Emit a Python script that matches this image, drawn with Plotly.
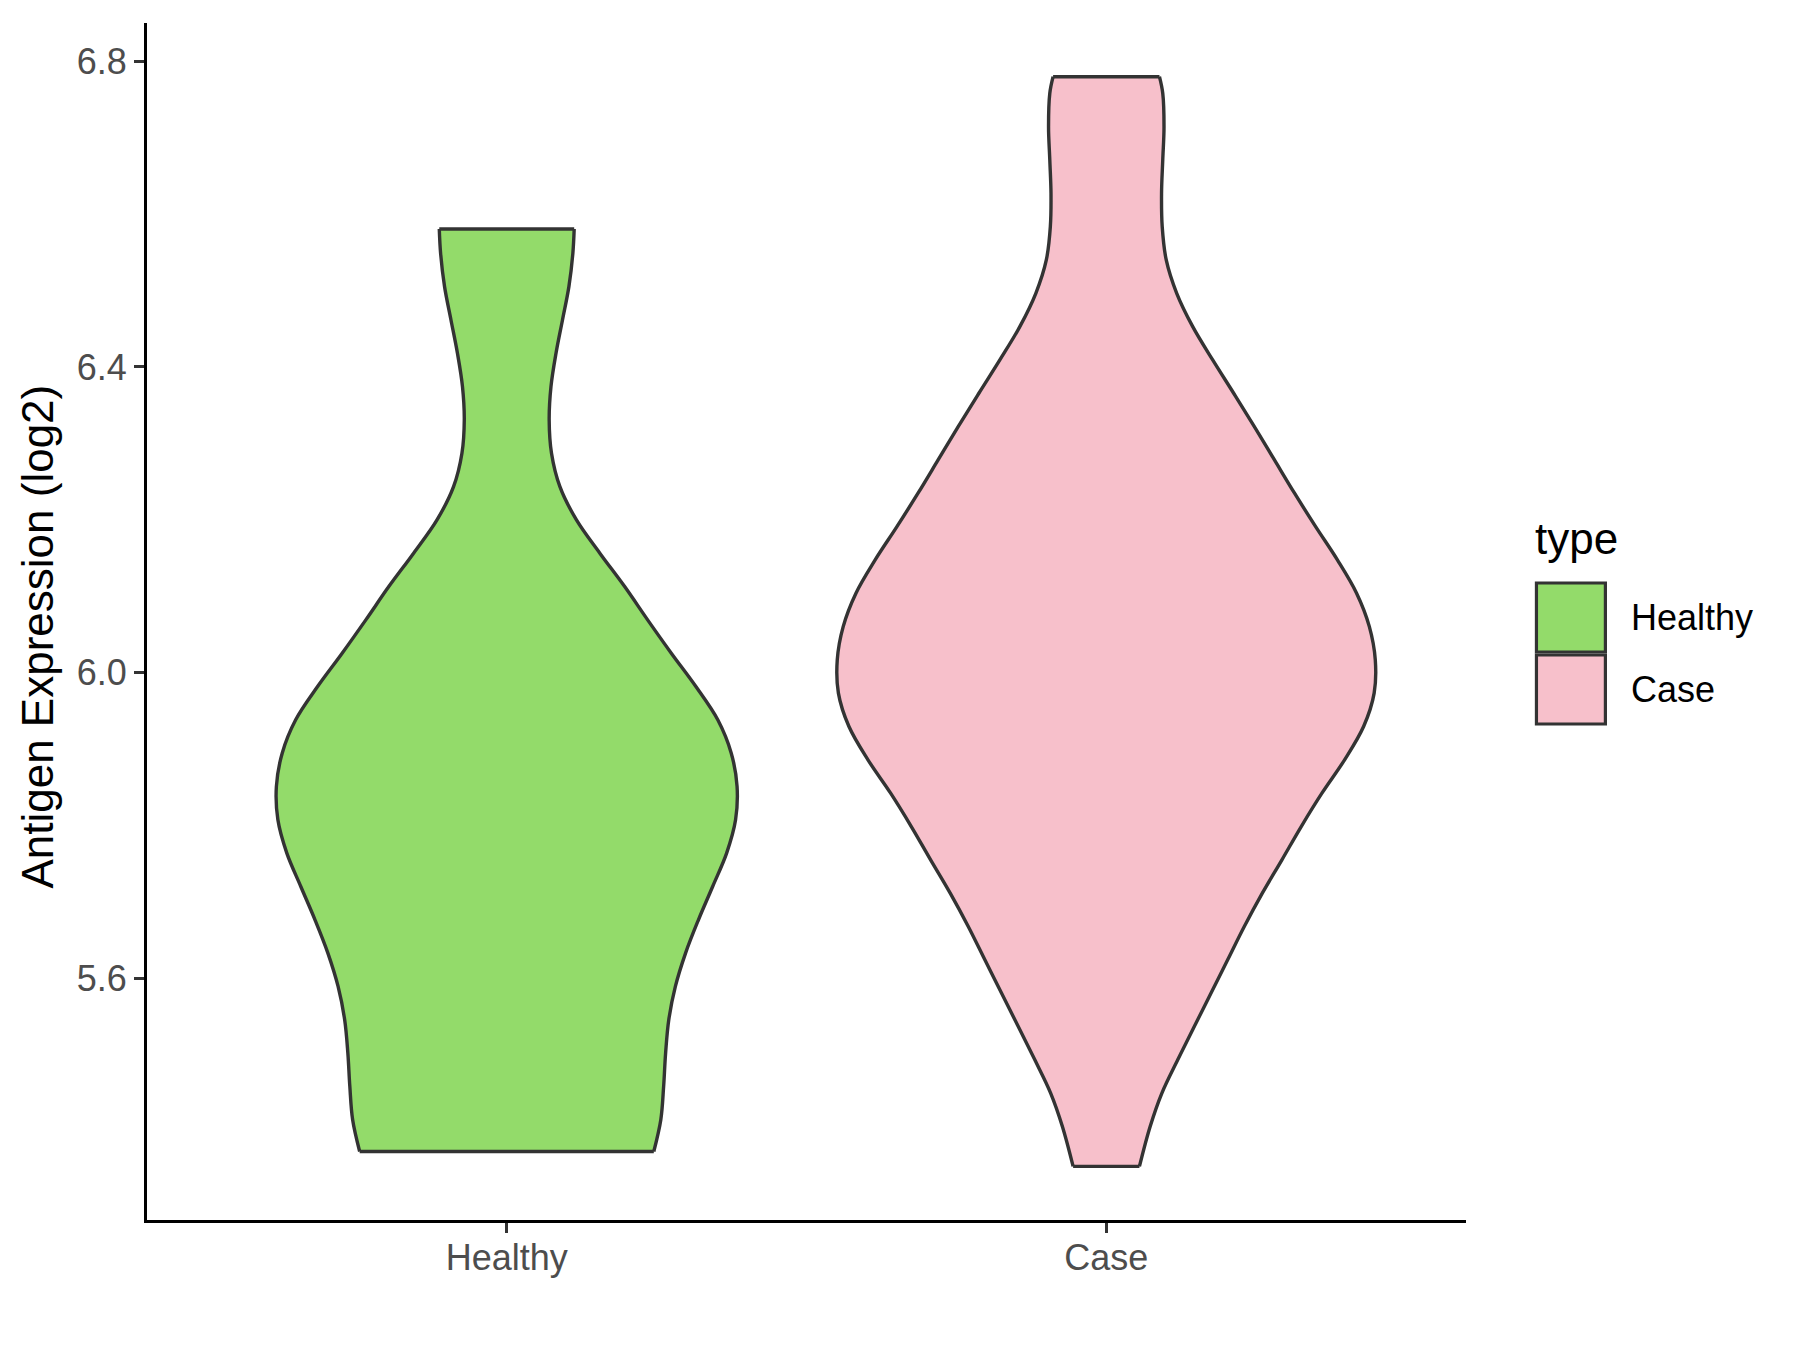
import plotly.graph_objects as go

# ---- data ----
categories = ["Healthy", "Case"]
fill_colors = ["#93DB6A", "#F7C0CB"]

# expression level (log2) and violin half-width (in category units), top to bottom
healthy_y = [6.5804, 6.5486, 6.505, 6.4614, 6.4179, 6.3742, 6.3307, 6.2872, 6.2435, 6.20,
             6.1565, 6.1128, 6.0693, 6.0257, 5.9821, 5.9386, 5.8950, 5.8514, 5.8078, 5.7643,
             5.7207, 5.6771, 5.6336, 5.5900, 5.5464, 5.5029, 5.4592, 5.4157, 5.3742]
healthy_hw = [0.1125, 0.1103, 0.1037, 0.0930, 0.0822, 0.0738, 0.0708, 0.0747, 0.0887, 0.1163,
              0.1553, 0.1967, 0.2350, 0.2745, 0.3155, 0.3520, 0.3745, 0.3842, 0.3817, 0.3668,
              0.3435, 0.3198, 0.2983, 0.2813, 0.2703, 0.2650, 0.2617, 0.2570, 0.2453]

case_y = [6.7795, 6.7578, 6.7141, 6.6706, 6.627, 6.5834, 6.5399, 6.4963, 6.4527, 6.4092,
          6.3656, 6.3220, 6.2784, 6.2349, 6.1912, 6.1477, 6.1042, 6.0605, 6.0170, 5.9735,
          5.9298, 5.8863, 5.8427, 5.7991, 5.7556, 5.7120, 5.6684, 5.6248, 5.5813, 5.5376,
          5.4941, 5.4506, 5.4069, 5.3547]
case_hw = [0.0887, 0.0942, 0.0963, 0.0942, 0.0922, 0.0933, 0.1000, 0.1175, 0.1442, 0.1775,
           0.2125, 0.2470, 0.2805, 0.3140, 0.3492, 0.3855, 0.4175, 0.4388, 0.4487, 0.4468,
           0.4292, 0.3975, 0.3597, 0.3252, 0.2930, 0.2603, 0.2302, 0.2025, 0.1748, 0.1468,
           0.1192, 0.0928, 0.0732, 0.0553]

y_ticks = [5.6, 6.0, 6.4, 6.8]
y_tick_labels = ["5.6", "6.0", "6.4", "6.8"]

profiles = [(healthy_y, healthy_hw), (case_y, case_hw)]

OUTLINE = "#333333"
LW = 3.4
FONT = "Liberation Sans, Arial, sans-serif"

fig = go.Figure()

for i, (name, (ys, hws)) in enumerate(zip(categories, profiles)):
    c = i + 1
    left = [c - h for h in hws]
    right = [c + h for h in hws]
    fig.add_trace(go.Scatter(x=left, y=ys, mode="lines",
                             line=dict(color=OUTLINE, width=LW, shape="spline", smoothing=1.0),
                             showlegend=False, hoverinfo="skip"))
    fig.add_trace(go.Scatter(x=right, y=ys, mode="lines",
                             line=dict(color=OUTLINE, width=LW, shape="spline", smoothing=1.0),
                             fill="tonextx", fillcolor=fill_colors[i], showlegend=False, name=name))
    # flat caps at the ends
    fig.add_trace(go.Scatter(x=[left[0], right[0]], y=[ys[0], ys[0]], mode="lines",
                             line=dict(color=OUTLINE, width=LW), showlegend=False, hoverinfo="skip"))
    fig.add_trace(go.Scatter(x=[left[-1], right[-1]], y=[ys[-1], ys[-1]], mode="lines",
                             line=dict(color=OUTLINE, width=LW), showlegend=False, hoverinfo="skip"))

# page offset (default body margin) compensation
OFF = 8
L, T = 146.5, 23          # plot area in screenshot px
PW, PH = 1320, 1197
W, H = 1800, 1350
ml, mt = L - OFF, T - OFF
mr, mb = W - ml - PW, H - mt - PH


def px(X):
    return (X - L) / PW


def py(Y):
    return (T + PH - Y) / PH


shapes = []
annotations = []
# manual legend
key_boxes = [(583, 652), (655, 724)]
for i, name in enumerate(categories):
    y0, y1 = key_boxes[i]
    shapes.append(dict(type="rect", xref="paper", yref="paper", x0=px(1537), x1=px(1606),
                       y0=py(y1), y1=py(y0), fillcolor=fill_colors[i],
                       line=dict(color=OUTLINE, width=3.2)))
    annotations.append(dict(xref="paper", yref="paper", x=px(1630), y=py((y0 + y1) / 2),
                            text=name, showarrow=False, xanchor="left", yanchor="middle",
                            font=dict(family=FONT, size=36, color="black")))
annotations.append(dict(xref="paper", yref="paper", x=px(1534), y=py(538), text="type",
                        showarrow=False, xanchor="left", yanchor="middle",
                        font=dict(family=FONT, size=44, color="black")))
# y axis title
annotations.append(dict(xref="paper", yref="paper", x=px(36), y=py(637),
                        text="Antigen Expression (log2)", textangle=-90, showarrow=False,
                        xanchor="center", yanchor="middle",
                        font=dict(family=FONT, size=44, color="black")))

fig.update_layout(
    width=W, height=H,
    margin=dict(l=ml, r=mr, t=mt, b=mb, autoexpand=False),
    paper_bgcolor="white", plot_bgcolor="white",
    showlegend=False,
    shapes=shapes, annotations=annotations,
    font=dict(family=FONT),
)
fig.update_xaxes(range=[0.4, 2.6], tickvals=[1, 2], ticktext=categories,
                 showgrid=False, zeroline=False, showline=True, linecolor="black", linewidth=2.8,
                 ticks="outside", ticklen=10, tickwidth=2.6, tickcolor=OUTLINE,
                 ticklabelstandoff=-6,
                 tickfont=dict(family=FONT, size=36, color="#4D4D4D"))
fig.update_yaxes(range=[5.2846, 6.8497], tickvals=y_ticks, ticktext=y_tick_labels,
                 showgrid=False, zeroline=False, showline=True, linecolor="black", linewidth=2.8,
                 ticks="outside", ticklen=10, tickwidth=2.6, tickcolor=OUTLINE,
                 tickfont=dict(family=FONT, size=36, color="#4D4D4D"))

fig.write_html("out.html")
